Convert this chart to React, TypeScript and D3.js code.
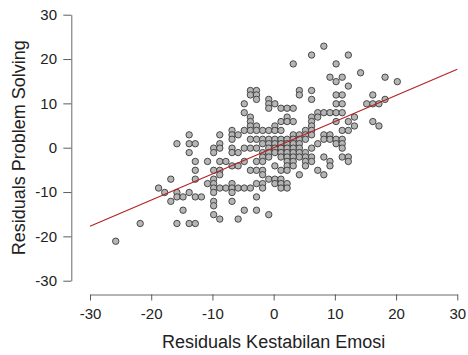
import { useEffect, useRef } from "react";
import * as d3 from "d3";

// axis ticks
const xTicks = [-30, -20, -10, 0, 10, 20, 30];
const yTicks = [-30, -20, -10, 0, 10, 20, 30];

// fitted line end points
const fitX = [-30, 30];
const fitY = [-17.7, 17.7];

// residual pairs [Kestabilan Emosi, Problem Solving]
const points: [number, number][] = [
  [8.2, 22.9], [6.2, 20.9], [12.2, 20.9], [3.2, 18.9], [10.2, 18.9], [14.2, 16.9],
  [9.2, 15.9], [11.2, 15.9], [18.2, 15.9], [10.2, 14.9], [20.2, 14.9], [12.2, 13.9],
  [-3.8, 12.9], [-2.8, 12.9], [4.2, 12.9], [6.2, 12.9],
  [-3.8, 11.9], [-2.8, 11.9], [4.2, 11.9], [10.2, 11.9], [11.2, 11.9], [16.2, 11.9],
  [-2.8, 10.9], [-0.8, 10.9], [6.2, 10.9], [18.2, 10.9],
  [-4.8, 9.9], [-0.8, 9.9], [0.2, 9.9], [10.2, 9.9], [11.2, 9.9], [15.2, 9.9], [16.2, 9.9], [17.2, 9.9],
  [-0.8, 8.9], [1.2, 8.9], [2.2, 8.9], [3.2, 8.9],
  [-4.8, 7.9], [7.2, 7.9], [8.2, 7.9], [9.2, 7.9], [10.2, 7.9], [11.2, 7.9],
  [-3.8, 6.9], [2.2, 6.9], [6.2, 6.9], [7.2, 6.9], [13.2, 6.9],
  [-3.8, 5.9], [1.2, 5.9], [2.2, 5.9], [3.2, 5.9], [6.2, 5.9], [10.2, 5.9], [12.2, 5.9], [16.2, 5.9],
  [-3.8, 4.9], [-2.8, 4.9], [0.2, 4.9], [6.2, 4.9], [13.2, 4.9], [17.2, 4.9],
  [-6.8, 3.9], [-4.8, 3.9], [-3.8, 3.9], [-2.8, 3.9], [-1.8, 3.9], [-0.8, 3.9], [0.2, 3.9], [1.2, 3.9],
  [5.2, 3.9], [6.2, 3.9], [11.2, 3.9], [12.2, 3.9],
  [-13.8, 2.9], [-8.8, 2.9], [-6.8, 2.9], [-5.8, 2.9], [3.2, 2.9], [4.2, 2.9], [5.2, 2.9], [6.2, 2.9],
  [8.2, 2.9], [9.2, 2.9],
  [-6.8, 1.9], [-3.8, 1.9], [-2.8, 1.9], [-1.8, 1.9], [-0.8, 1.9], [0.2, 1.9], [1.2, 1.9], [2.2, 1.9],
  [3.2, 1.9], [4.2, 1.9], [5.2, 1.9], [8.2, 1.9], [9.2, 1.9], [10.2, 1.9], [11.2, 1.9],
  [-15.8, 0.9], [-13.8, 0.9], [-12.8, 0.9], [-8.8, 0.9], [-1.8, 0.9], [-0.8, 0.9], [0.2, 0.9], [1.2, 0.9],
  [2.2, 0.9], [3.2, 0.9], [4.2, 0.9], [7.2, 0.9], [10.2, 0.9], [11.2, 0.9],
  [-9.8, -0.1], [-8.8, -0.1], [-6.8, -0.1], [-4.8, -0.1], [-3.8, -0.1], [-2.8, -0.1], [-0.8, -0.1],
  [0.2, -0.1], [1.2, -0.1], [2.2, -0.1], [3.2, -0.1], [4.2, -0.1], [6.2, -0.1], [11.2, -0.1],
  [-13.8, -1.1], [-9.8, -1.1], [-6.8, -1.1], [-5.8, -1.1], [-1.8, -1.1], [-0.8, -1.1], [0.2, -1.1],
  [1.2, -1.1], [2.2, -1.1], [3.2, -1.1], [4.2, -1.1], [5.2, -1.1],
  [-1.8, -2.1], [-0.8, -2.1], [1.2, -2.1], [2.2, -2.1], [3.2, -2.1], [4.2, -2.1], [5.2, -2.1],
  [6.2, -2.1], [8.2, -2.1], [11.2, -2.1], [12.2, -2.1],
  [-12.8, -3.1], [-10.8, -3.1], [-8.8, -3.1], [-7.8, -3.1], [-4.8, -3.1], [-2.8, -3.1], [-1.8, -3.1],
  [2.2, -3.1], [3.2, -3.1], [5.2, -3.1], [6.2, -3.1], [9.2, -3.1], [12.2, -3.1],
  [-6.8, -4.1], [-5.8, -4.1], [0.2, -4.1], [2.2, -4.1], [3.2, -4.1], [5.2, -4.1], [9.2, -4.1],
  [-12.8, -5.1], [-9.8, -5.1], [-8.8, -5.1], [-3.8, -5.1], [-2.8, -5.1], [-1.8, -5.1], [1.2, -5.1],
  [2.2, -5.1], [7.2, -5.1],
  [-8.8, -6.1], [-1.8, -6.1], [4.2, -6.1], [8.2, -6.1],
  [-16.8, -7.1], [-12.8, -7.1], [-9.8, -7.1], [-0.8, -7.1], [0.2, -7.1], [1.2, -7.1],
  [-10.8, -8.1], [-9.8, -8.1], [-6.8, -8.1], [-2.8, -8.1], [-1.8, -8.1], [0.2, -8.1], [1.2, -8.1], [2.2, -8.1],
  [-18.8, -9.1], [-9.8, -9.1], [-8.8, -9.1], [-7.8, -9.1], [-6.8, -9.1], [-5.8, -9.1], [-4.8, -9.1],
  [-3.8, -9.1], [-1.8, -9.1], [1.2, -9.1], [2.2, -9.1],
  [-17.8, -10.1], [-15.8, -10.1], [-13.8, -10.1], [-9.8, -10.1], [-6.8, -10.1],
  [-15.8, -11.1], [-14.8, -11.1], [-12.8, -11.1], [-11.8, -11.1], [-2.8, -11.1],
  [-16.8, -12.1], [-9.8, -12.1], [-6.8, -12.1],
  [-9.8, -13.1],
  [-14.8, -14.1], [-4.8, -14.1], [-2.8, -14.1],
  [-9.8, -15.1], [-0.8, -15.1],
  [-8.8, -16.1], [-5.8, -16.1],
  [-21.8, -17.1], [-15.8, -17.1], [-13.8, -17.1], [-12.8, -17.1],
  [-25.8, -21.1],
];

const font = "'Liberation Sans', Arial, sans-serif";

export default function App() {
  const svgRef = useRef<SVGSVGElement>(null);
  const width = 468,
    height = 355;

  useEffect(() => {
    const svg = d3.select(svgRef.current);
    svg.selectAll("*").remove();

    const x = d3.scaleLinear().domain([-30, 30]).range([90, 457.3]);
    const y = d3.scaleLinear().domain([-30, 30]).range([280.7, 14.7]);
    const fmt = (d: d3.NumberValue) => String(d); // plain hyphen minus

    // y axis
    const yAxis = svg
      .append("g")
      .attr("transform", "translate(71.3,0)")
      .call(
        d3.axisLeft(y).tickValues(yTicks).tickFormat(fmt).tickSize(8).tickSizeOuter(0).tickPadding(6.3)
      );
    // x axis
    const xAxis = svg
      .append("g")
      .attr("transform", "translate(0,294.5)")
      .call(
        d3.axisBottom(x).tickValues(xTicks).tickFormat(fmt).tickSize(6).tickSizeOuter(0).tickPadding(8.2)
      );

    [yAxis, xAxis].forEach((g) => {
      g.select(".domain").attr("stroke", "#444").attr("stroke-width", 0.8);
      g.selectAll(".tick line").attr("stroke", "#333").attr("stroke-width", 0.8);
      g.selectAll(".tick text")
        .attr("fill", "#222")
        .style("font-family", font)
        .style("font-size", "15px");
    });

    // points
    svg
      .append("g")
      .selectAll("circle")
      .data(points)
      .join("circle")
      .attr("cx", (d) => x(d[0]))
      .attr("cy", (d) => y(d[1]))
      .attr("r", 3.2)
      .attr("fill", "#b5b5b5")
      .attr("stroke", "#3a3a3a")
      .attr("stroke-width", 0.9);

    // regression line
    const line = d3
      .line<number>()
      .x((d) => x(d))
      .y((d, i) => y(fitY[i]));
    svg
      .append("path")
      .datum(fitX)
      .attr("d", line)
      .attr("fill", "none")
      .attr("stroke", "#b22222")
      .attr("stroke-width", 1.1);

    // titles
    svg
      .append("text")
      .attr("x", x(0))
      .attr("y", 348.3)
      .attr("text-anchor", "middle")
      .attr("fill", "#222")
      .style("font-family", font)
      .style("font-size", "18px")
      .text("Residuals Kestabilan Emosi");
    svg
      .append("text")
      .attr("transform", `translate(25,${y(0)}) rotate(-90)`)
      .attr("text-anchor", "middle")
      .attr("fill", "#222")
      .style("font-family", font)
      .style("font-size", "18px")
      .text("Residuals Problem Solving");
  }, []);

  return (
    <svg
      ref={svgRef}
      width={width}
      height={height}
      style={{ position: "absolute", left: 0, top: 0, background: "#fff" }}
    />
  );
}
